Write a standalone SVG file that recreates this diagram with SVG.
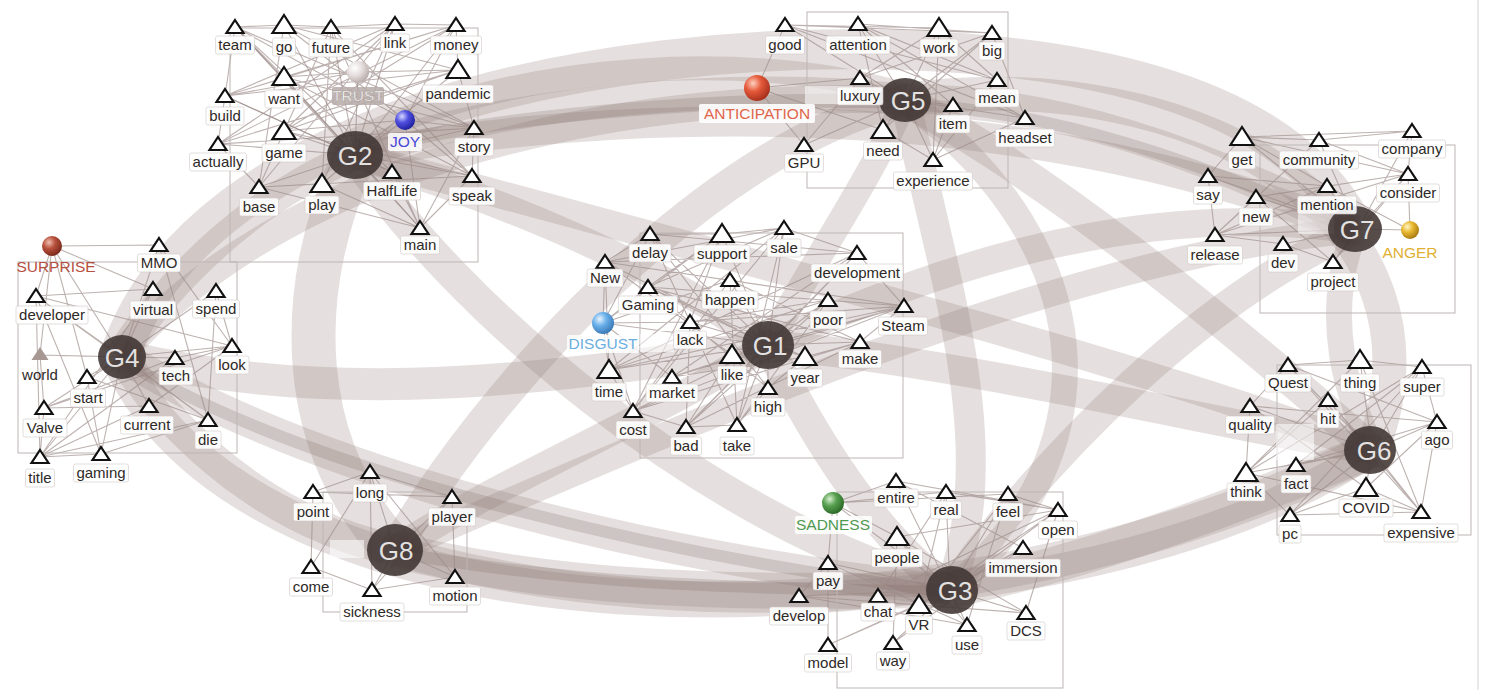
<svg xmlns="http://www.w3.org/2000/svg" xmlns:xlink="http://www.w3.org/1999/xlink" width="1486" height="700" viewBox="0 0 1486 700">
<style>
.band{fill:none;stroke:#8f7a74;stroke-opacity:.23;stroke-linecap:butt}
.bd{fill:none;stroke:#7a6560;stroke-opacity:.22}
.e{fill:none;stroke:#9a8985;stroke-opacity:.65;stroke-width:1.1}
.box{fill:none;stroke:#bdb5b3;stroke-width:1}
.gc{fill:#3f3432;fill-opacity:.88}
.gl{font-family:"Liberation Sans",Arial,sans-serif;font-size:26px;fill:#fff;fill-opacity:.85;text-anchor:middle}
.tri{fill:#fff;stroke:#111;stroke-width:2.2;stroke-linejoin:miter}
.lb{fill:#fff;fill-opacity:.9;stroke:#d0c8c6;stroke-width:.6}
.t{font-family:"Liberation Sans",Arial,sans-serif;font-size:15px;fill:#2e2927;text-anchor:middle}
.em{font-family:"Liberation Sans",Arial,sans-serif;font-size:15.5px;text-anchor:middle}
.hid{fill:#fff;fill-opacity:.55}
</style>
<defs>
<path id="ts" class="tri" d="M0,-7 L8.5,6 L-8.5,6Z"/>
<path id="tl" class="tri" d="M0,-10 L11.5,8 L-11.5,8Z"/>
<radialGradient id="gR" cx=".35" cy=".32" r=".7"><stop offset="0" stop-color="#f0c0b0"/><stop offset=".45" stop-color="#b8503c"/><stop offset="1" stop-color="#7a2a1c"/></radialGradient>
<radialGradient id="gO" cx=".35" cy=".32" r=".7"><stop offset="0" stop-color="#ffd0c0"/><stop offset=".45" stop-color="#e55a3a"/><stop offset="1" stop-color="#a8301c"/></radialGradient>
<radialGradient id="gB" cx=".35" cy=".32" r=".7"><stop offset="0" stop-color="#d8d8ff"/><stop offset=".45" stop-color="#5050e0"/><stop offset="1" stop-color="#2020a0"/></radialGradient>
<radialGradient id="gC" cx=".35" cy=".32" r=".7"><stop offset="0" stop-color="#e8f4ff"/><stop offset=".45" stop-color="#6ab0ea"/><stop offset="1" stop-color="#3a7ab8"/></radialGradient>
<radialGradient id="gY" cx=".35" cy=".32" r=".7"><stop offset="0" stop-color="#fff4c8"/><stop offset=".45" stop-color="#e8b830"/><stop offset="1" stop-color="#a87a10"/></radialGradient>
<radialGradient id="gG" cx=".35" cy=".32" r=".7"><stop offset="0" stop-color="#d8f0d0"/><stop offset=".45" stop-color="#58a050"/><stop offset="1" stop-color="#2c6a28"/></radialGradient>
<radialGradient id="gW" cx=".35" cy=".32" r=".7"><stop offset="0" stop-color="#ffffff"/><stop offset=".5" stop-color="#e4dedd"/><stop offset="1" stop-color="#b8adab"/></radialGradient>
</defs>
<rect width="1486" height="700" fill="#fff"/>
<line x1="1478" y1="0" x2="1478" y2="690" stroke="#d6d2d2" stroke-width="1"/>

<g id="connectors">
<g id="bands">
<path class="band" stroke-width="40" d="M120,355 C200,120 600,40 900,50 C1150,58 1300,120 1355,230"/>
<path class="band" stroke-width="34" d="M905,100 C1200,60 1460,220 1372,450"/>
<path class="band" stroke-width="32" d="M355,155 C500,100 750,80 905,100"/>
<path class="band" stroke-width="24" d="M355,140 C520,60 760,50 905,95"/>
<path class="band" stroke-width="30" d="M355,155 C600,110 1000,90 1355,230"/>
<path class="band" stroke-width="32" d="M905,100 C1050,100 1200,150 1355,230"/>
<path class="band" stroke-width="32" d="M905,100 C1050,180 1200,300 1372,450"/>
<path class="band" stroke-width="28" d="M768,345 C950,260 1150,200 1355,230"/>
<path class="band" stroke-width="30" d="M768,345 C950,360 1200,420 1372,450"/>
<path class="band" stroke-width="36" d="M950,590 C1100,560 1250,500 1372,450"/>
<path class="band" stroke-width="30" d="M950,590 C1050,450 1200,300 1355,230"/>
<path class="band" stroke-width="30" d="M905,100 C950,300 1000,450 950,590"/>
<path class="band" stroke-width="26" d="M905,100 C1110,250 1110,460 950,590"/>
<path class="band" stroke-width="32" d="M355,155 C450,300 700,520 950,590"/>
<path class="band" stroke-width="32" d="M905,100 C700,150 480,400 395,550"/>
<path class="band" stroke-width="44" d="M355,155 C290,300 300,450 395,550"/>
<path class="band" stroke-width="32" d="M120,355 C300,400 500,390 768,345"/>
<path class="band" stroke-width="32" d="M120,355 C300,470 650,560 950,590"/>
<path class="band" stroke-width="36" d="M120,360 C250,640 900,680 1372,450"/>
<path class="band" stroke-width="36" d="M395,550 C600,600 800,590 950,590"/>
<path class="band" stroke-width="30" d="M395,550 C700,640 1150,600 1372,450"/>
<path class="band" stroke-width="32" d="M120,355 C200,470 300,530 395,550"/>
<path class="band" stroke-width="28" d="M355,155 C500,200 650,260 768,345"/>
<path class="band" stroke-width="28" d="M768,345 C650,420 500,480 395,550"/>
<path class="band" stroke-width="30" d="M768,345 C820,450 880,540 950,590"/>
<path class="band" stroke-width="26" d="M768,345 C820,250 870,180 905,100"/>
<path class="band" stroke-width="30" d="M355,155 C250,200 170,280 120,355"/>
<path class="band" stroke-width="26" d="M1355,230 C1320,320 1350,400 1372,450"/>
<path class="band" stroke-width="28" d="M355,155 C700,250 1100,350 1372,450"/>
<path class="band" stroke-width="28" d="M120,355 C300,150 650,90 905,100"/>
<path class="band" stroke-width="26" d="M395,550 C700,420 1050,260 1355,230"/>
<path class="bd" stroke-width="14" d="M355,152 C500,112 750,96 905,102"/>
<path class="bd" stroke-width="12" d="M905,104 C1050,110 1200,160 1355,232"/>
<path class="bd" stroke-width="12" d="M395,552 C600,590 800,588 950,592"/>
<path class="bd" stroke-width="12" d="M122,360 C300,470 650,555 950,592"/>
</g>
<g id="edges">
<path class="e" d="M235,27L355,155M284,25L355,155M331,27L355,155M395,24L355,155M456,25L355,155M284,77L355,155M458,70L355,155M225,96L355,155M284,131L355,155M218,144L355,155M474,128L355,155M392,172L355,155M472,176L355,155M259,187L355,155M322,184L355,155M420,228L355,155M358,72L355,155M405,120L355,155"/>
<path class="e" d="M235,27L284,77L456,25L225,96L458,70L284,131L395,24L218,144L474,128L284,25L259,187L472,176L331,27L322,184L420,228L235,27M284,25L458,70L218,144L456,25L284,131L472,176L284,77L474,128L235,27L392,172L225,96L395,24L259,187L331,27L420,228L284,77M235,27L284,25L331,27L395,24L456,25L458,70L474,128L472,176L420,228L322,184L259,187L218,144L225,96L235,27M225,96L458,70M218,144L474,128M259,187L420,228M331,27L259,187M395,24L322,184M456,25L218,144M405,120L235,27M405,120L284,25M405,120L456,25M405,120L474,128M405,120L420,228M405,120L472,176M405,120L284,131M358,72L284,77M358,72L458,70M358,72L225,96M392,172L420,228M472,176L420,228M474,128L420,228"/>
<path class="e" d="M785,25L905,100M858,24L905,100M939,28L905,100M992,33L905,100M860,78L905,100M997,80L905,100M953,105L905,100M1025,118L905,100M804,145L905,100M883,130L905,100M933,160L905,100M785,25L939,28L860,78L992,33L883,130L858,24L997,80L785,25M858,24L992,33M939,28L997,80L858,24M785,25L992,33M933,160L953,105M933,160L997,80M933,160L1025,118M933,160L883,130M933,160L939,28M953,105L858,24M804,145L860,78M1025,118L992,33M757,88L785,25M757,88L804,145M757,88L860,78M757,88L883,130M785,25L1025,118M858,24L1025,118"/>
<path class="e" d="M1242,137L1358,229M1319,140L1358,229M1412,131L1358,229M1208,176L1358,229M1408,174L1358,229M1256,197L1358,229M1327,186L1358,229M1215,235L1358,229M1283,244L1358,229M1333,262L1358,229M1410,230L1358,229M1242,137L1319,140L1412,131L1408,174L1410,230M1242,137L1408,174M1242,137L1327,186M1208,176L1242,137M1208,176L1215,235M1215,235L1256,197M1215,235L1283,244L1333,262M1215,235L1319,140M1215,235L1327,186M1215,235L1408,174M1256,197L1408,174M1319,140L1408,174M1408,174L1333,262M1410,230L1327,186M1208,176L1327,186M1256,197L1333,262M1242,137L1412,131"/>
<path class="e" d="M159,245L122,357M36,296L122,357M153,289L122,357M216,291L122,357M40,355L122,357M175,358L122,357M232,346L122,357M87,377L122,357M44,408L122,357M149,406L122,357M208,420L122,357M40,457L122,357M101,454L122,357M52,246L122,357M52,246L36,296M52,246L40,355M52,246L159,245M52,246L153,289M52,246L87,377M36,296L153,289M36,296L208,420M36,296L40,457M40,355L44,408L40,457M44,408L175,358M44,408L232,346M44,408L149,406M40,457L101,454M40,457L149,406M40,457L208,420M40,457L175,358M40,457L153,289M101,454L208,420M101,454L36,296M159,245L232,346M159,245L208,420M216,291L232,346M216,291L208,420M87,377L208,420M87,377L101,454M149,406L232,346M175,358L232,346M40,355L175,358M36,296L232,346"/>
<path class="e" d="M650,234L768,345M722,234L768,345M784,228L768,345M857,253L768,345M605,262L768,345M648,287L768,345M730,280L768,345M828,300L768,345M904,306L768,345M690,322L768,345M732,355L768,345M805,357L768,345M860,342L768,345M609,370L768,345M672,377L768,345M768,388L768,345M633,411L768,345M686,427L768,345M737,425L768,345M603,323L768,345M650,234L722,234L784,228L857,253L904,306L860,342L805,357L768,388L737,425L686,427L633,411L609,370L605,262L650,234M650,234L857,253L605,262L904,306L648,287L860,342L730,280L737,425L828,300L686,427L690,322L904,306M722,234L633,411L784,228L609,370L857,253L672,377L904,306M605,262L784,228L648,287L722,234L690,322L828,300L609,370L904,306L633,411L860,342L686,427L857,253M672,377L805,357L648,287L768,388L650,234L737,425L784,228M732,355L605,262M732,355L904,306M732,355L686,427M730,280L633,411M603,323L605,262M603,323L650,234M603,323L648,287M603,323L609,370M603,323L690,322M603,323L672,377M603,323L633,411M603,323L730,280M603,323L722,234"/>
<path class="e" d="M1288,365L1372,450M1360,360L1372,450M1422,367L1372,450M1250,406L1372,450M1328,400L1372,450M1437,422L1372,450M1246,473L1372,450M1296,465L1372,450M1366,488L1372,450M1290,515L1372,450M1421,512L1372,450M1288,365L1360,360L1422,367L1437,422L1421,512L1366,488L1290,515L1246,473L1250,406L1288,365M1288,365L1437,422M1288,365L1421,512M1360,360L1421,512M1360,360L1246,473M1422,367L1246,473M1422,367L1290,515M1250,406L1437,422M1250,406L1366,488M1328,400L1421,512M1328,400L1246,473M1296,465L1437,422M1296,465L1422,367M1366,488L1437,422M1290,515L1421,512M1246,473L1421,512M1250,406L1246,473"/>
<path class="e" d="M313,492L452,497M370,472L313,492M370,472L452,497M313,492L311,567M370,472L311,567M370,472L372,590M370,472L455,577M452,497L455,577M452,497L372,590M372,590L455,577M311,567L372,590M370,472L395,550M452,497L395,550M455,577L395,550M372,590L395,550"/>
<path class="e" d="M896,481L950,590M946,492L950,590M1008,494L950,590M1058,510L950,590M897,537L950,590M1023,548L950,590M828,563L950,590M799,596L950,590M878,596L950,590M919,605L950,590M1026,613L950,590M967,625L950,590M828,645L950,590M893,643L950,590M833,503L950,590M833,503L896,481M833,503L946,492M833,503L897,537M833,503L828,563M833,503L1008,494M896,481L1058,510M946,492L1058,510M1008,494L1058,510M896,481L1023,548M946,492L919,605M1008,494L919,605M1058,510L919,605M1058,510L897,537M1023,548L919,605M1026,613L919,605M1026,613L897,537M967,625L828,563M967,625L799,596M967,625L897,537M893,643L897,537M893,643L1023,548M828,645L919,605M828,645L828,563M799,596L919,605M799,596L828,563M878,596L1058,510M878,596L946,492M1026,613L1058,510M967,625L1008,494"/>
</g>
</g>

<g id="groups">
<rect class="box" x="230" y="28" width="248" height="234"/>
<rect class="box" x="807" y="12" width="201" height="176"/>
<rect class="box" x="1260" y="145" width="195" height="168"/>
<rect class="box" x="18" y="262" width="219" height="191"/>
<rect class="box" x="640" y="233" width="263" height="225"/>
<rect class="box" x="1277" y="365" width="194" height="170"/>
<rect class="box" x="323" y="492" width="144" height="120"/>
<rect class="box" x="837" y="492" width="226" height="196"/>
<rect class="hid" x="805" y="86" width="48" height="18"/>
<rect class="hid" x="640" y="334" width="34" height="18"/>
<rect class="hid" x="330" y="540" width="34" height="18"/>
<rect class="hid" x="1276" y="424" width="38" height="36"/>
<rect class="hid" x="1298" y="214" width="36" height="20"/>
</g>

<g id="G1"><ellipse class="gc" cx="768" cy="345" rx="26" ry="24" fill-opacity=".7"/><text class="gl" x="770" y="355">G1</text></g>
<g id="G2"><ellipse class="gc" cx="355" cy="155" rx="28" ry="24"/><text class="gl" x="355" y="165">G2</text></g>
<g id="G3"><ellipse class="gc" cx="952" cy="590" rx="26" ry="24"/><text class="gl" x="955" y="600">G3</text></g>
<g id="G4"><ellipse class="gc" cx="122" cy="357" rx="24" ry="22"/><text class="gl" x="122" y="367">G4</text></g>
<g id="G5"><ellipse class="gc" cx="905" cy="100" rx="26" ry="22"/><text class="gl" x="908" y="110">G5</text></g>
<g id="G6"><ellipse class="gc" cx="1370" cy="450" rx="26" ry="24"/><text class="gl" x="1374" y="460">G6</text></g>
<g id="G7"><ellipse class="gc" cx="1355" cy="229" rx="27" ry="23"/><text class="gl" x="1357" y="239">G7</text></g>
<g id="G8"><ellipse class="gc" cx="395" cy="550" rx="28" ry="26"/><text class="gl" x="396" y="560">G8</text></g>

<g id="nodes">
<g id="n-team"><use href="#ts" x="235" y="27"/><rect class="lb" x="215.5" y="36" width="39" height="18" rx="2"/><text class="t" x="235" y="50">team</text></g>
<g id="n-go"><use href="#tl" x="284" y="25"/><rect class="lb" x="272.5" y="38" width="23" height="18" rx="2"/><text class="t" x="284" y="52">go</text></g>
<g id="n-future"><use href="#ts" x="331" y="27"/><rect class="lb" x="309" y="39" width="44" height="18" rx="2"/><text class="t" x="331" y="53">future</text></g>
<g id="n-link"><use href="#ts" x="395" y="24"/><rect class="lb" x="380.5" y="34" width="29" height="18" rx="2"/><text class="t" x="395" y="48">link</text></g>
<g id="n-money"><use href="#ts" x="456" y="25"/><rect class="lb" x="430.5" y="36" width="51" height="18" rx="2"/><text class="t" x="456" y="50">money</text></g>
<g id="n-want"><use href="#tl" x="284" y="77"/><rect class="lb" x="265" y="90" width="38" height="18" rx="2"/><text class="t" x="284" y="104">want</text></g>
<g id="n-pandemic"><use href="#tl" x="458" y="70"/><rect class="lb" x="422.5" y="85" width="71" height="18" rx="2"/><text class="t" x="458" y="99">pandemic</text></g>
<g id="n-build"><use href="#ts" x="225" y="96"/><rect class="lb" x="206" y="107" width="38" height="18" rx="2"/><text class="t" x="225" y="121">build</text></g>
<g id="n-game"><use href="#tl" x="284" y="131"/><rect class="lb" x="262" y="144" width="44" height="18" rx="2"/><text class="t" x="284" y="158">game</text></g>
<g id="n-actually"><use href="#ts" x="218" y="144"/><rect class="lb" x="189.5" y="153" width="57" height="18" rx="2" fill-opacity=".5"/><text class="t" x="218" y="167">actually</text></g>
<g id="n-story"><use href="#ts" x="474" y="128"/><rect class="lb" x="454.5" y="138" width="39" height="18" rx="2"/><text class="t" x="474" y="152">story</text></g>
<g id="n-HalfLife"><use href="#ts" x="392" y="172"/><rect class="lb" x="363.5" y="182" width="57" height="18" rx="2"/><text class="t" x="392" y="196">HalfLife</text></g>
<g id="n-speak"><use href="#ts" x="472" y="176"/><rect class="lb" x="449" y="187" width="46" height="18" rx="2"/><text class="t" x="472" y="201">speak</text></g>
<g id="n-base"><use href="#ts" x="259" y="187"/><rect class="lb" x="239.5" y="198" width="39" height="18" rx="2"/><text class="t" x="259" y="212">base</text></g>
<g id="n-play"><use href="#tl" x="322" y="184"/><rect class="lb" x="305" y="196" width="34" height="18" rx="2"/><text class="t" x="322" y="210">play</text></g>
<g id="n-main"><use href="#ts" x="420" y="228"/><rect class="lb" x="400.5" y="236" width="39" height="18" rx="2"/><text class="t" x="420" y="250">main</text></g>

<g id="n-good"><use href="#ts" x="785" y="25"/><rect class="lb" x="765.5" y="36" width="39" height="18" rx="2"/><text class="t" x="785" y="50">good</text></g>
<g id="n-attention"><use href="#ts" x="858" y="24"/><rect class="lb" x="826" y="36" width="64" height="18" rx="2"/><text class="t" x="858" y="50">attention</text></g>
<g id="n-work"><use href="#tl" x="939" y="28"/><rect class="lb" x="920" y="39" width="38" height="18" rx="2"/><text class="t" x="939" y="53">work</text></g>
<g id="n-big"><use href="#ts" x="992" y="33"/><rect class="lb" x="979" y="42" width="26" height="18" rx="2"/><text class="t" x="992" y="56">big</text></g>
<g id="n-luxury"><use href="#ts" x="860" y="78"/><rect class="lb" x="837" y="87" width="46" height="18" rx="2"/><text class="t" x="860" y="101">luxury</text></g>
<g id="n-mean"><use href="#ts" x="997" y="80"/><rect class="lb" x="975" y="89" width="44" height="18" rx="2"/><text class="t" x="997" y="103">mean</text></g>
<g id="n-item"><use href="#ts" x="953" y="105"/><rect class="lb" x="936" y="115" width="34" height="18" rx="2"/><text class="t" x="953" y="129">item</text></g>
<g id="n-headset"><use href="#ts" x="1025" y="118"/><rect class="lb" x="995.5" y="129" width="59" height="18" rx="2"/><text class="t" x="1025" y="143">headset</text></g>
<g id="n-GPU"><use href="#ts" x="804" y="145"/><rect class="lb" x="784.5" y="154" width="39" height="18" rx="2"/><text class="t" x="804" y="168">GPU</text></g>
<g id="n-need"><use href="#tl" x="883" y="130"/><rect class="lb" x="863.5" y="142" width="39" height="18" rx="2"/><text class="t" x="883" y="156">need</text></g>
<g id="n-experience"><use href="#ts" x="933" y="160"/><rect class="lb" x="893.5" y="172" width="79" height="18" rx="2"/><text class="t" x="933" y="186">experience</text></g>

<g id="n-get"><use href="#tl" x="1242" y="137"/><rect class="lb" x="1228.5" y="151" width="27" height="18" rx="2"/><text class="t" x="1242" y="165">get</text></g>
<g id="n-community"><use href="#ts" x="1319" y="140"/><rect class="lb" x="1279.5" y="151" width="79" height="18" rx="2"/><text class="t" x="1319" y="165">community</text></g>
<g id="n-company"><use href="#ts" x="1412" y="131"/><rect class="lb" x="1378.5" y="140" width="67" height="18" rx="2"/><text class="t" x="1412" y="154">company</text></g>
<g id="n-say"><use href="#ts" x="1208" y="176"/><rect class="lb" x="1193.5" y="186" width="29" height="18" rx="2"/><text class="t" x="1208" y="200">say</text></g>
<g id="n-consider"><use href="#ts" x="1408" y="174"/><rect class="lb" x="1376.5" y="184" width="63" height="18" rx="2"/><text class="t" x="1408" y="198">consider</text></g>
<g id="n-new"><use href="#ts" x="1256" y="197"/><rect class="lb" x="1239" y="208" width="34" height="18" rx="2"/><text class="t" x="1256" y="222">new</text></g>
<g id="n-mention"><use href="#ts" x="1327" y="186"/><rect class="lb" x="1297.5" y="196" width="59" height="18" rx="2"/><text class="t" x="1327" y="210">mention</text></g>
<g id="n-release"><use href="#ts" x="1215" y="235"/><rect class="lb" x="1187.5" y="246" width="55" height="18" rx="2"/><text class="t" x="1215" y="260">release</text></g>
<g id="n-dev"><use href="#ts" x="1283" y="244"/><rect class="lb" x="1268" y="254" width="30" height="18" rx="2"/><text class="t" x="1283" y="268">dev</text></g>
<g id="n-project"><use href="#ts" x="1333" y="262"/><rect class="lb" x="1307.5" y="273" width="51" height="18" rx="2"/><text class="t" x="1333" y="287">project</text></g>

<g id="n-MMO"><use href="#ts" x="159" y="245"/><rect class="lb" x="137.5" y="254" width="43" height="18" rx="2"/><text class="t" x="159" y="268">MMO</text></g>
<g id="n-developer"><use href="#ts" x="36" y="296"/><rect class="lb" x="16" y="306" width="72" height="18" rx="2"/><text class="t" x="52" y="320">developer</text></g>
<g id="n-virtual"><use href="#ts" x="153" y="289"/><rect class="lb" x="130" y="301" width="46" height="18" rx="2"/><text class="t" x="153" y="315">virtual</text></g>
<g id="n-spend"><use href="#ts" x="216" y="291"/><rect class="lb" x="192.5" y="300" width="47" height="18" rx="2"/><text class="t" x="216" y="314">spend</text></g>
<g id="n-world"><path d="M40,347 L48.5,360 L31.5,360Z" fill="#a89894"/><text class="t" x="40" y="380">world</text></g>
<g id="n-tech"><use href="#ts" x="175" y="358"/><rect class="lb" x="159" y="367" width="34" height="18" rx="2"/><text class="t" x="176" y="381">tech</text></g>
<g id="n-look"><use href="#ts" x="232" y="346"/><rect class="lb" x="215" y="356" width="34" height="18" rx="2"/><text class="t" x="232" y="370">look</text></g>
<g id="n-start"><use href="#ts" x="87" y="377"/><rect class="lb" x="70.5" y="389" width="35" height="18" rx="2"/><text class="t" x="88" y="403">start</text></g>
<g id="n-Valve"><use href="#ts" x="44" y="408"/><rect class="lb" x="23" y="419" width="44" height="18" rx="2" fill-opacity=".6"/><text class="t" x="45" y="433">Valve</text></g>
<g id="n-current"><use href="#ts" x="149" y="406"/><rect class="lb" x="120.5" y="416" width="53" height="18" rx="2"/><text class="t" x="147" y="430">current</text></g>
<g id="n-die"><use href="#ts" x="208" y="420"/><rect class="lb" x="195" y="431" width="26" height="18" rx="2"/><text class="t" x="208" y="445">die</text></g>
<g id="n-title"><use href="#ts" x="40" y="457"/><rect class="lb" x="25.5" y="469" width="29" height="18" rx="2"/><text class="t" x="40" y="483">title</text></g>
<g id="n-gaming"><use href="#ts" x="101" y="454"/><rect class="lb" x="73.5" y="464" width="55" height="18" rx="2"/><text class="t" x="101" y="478">gaming</text></g>

<g id="n-delay"><use href="#ts" x="650" y="234"/><rect class="lb" x="629" y="244" width="42" height="18" rx="2"/><text class="t" x="650" y="258">delay</text></g>
<g id="n-support"><use href="#tl" x="722" y="234"/><rect class="lb" x="694" y="245" width="56" height="18" rx="2"/><text class="t" x="722" y="259">support</text></g>
<g id="n-sale"><use href="#ts" x="784" y="228"/><rect class="lb" x="767" y="239" width="34" height="18" rx="2"/><text class="t" x="784" y="253">sale</text></g>
<g id="n-development"><use href="#ts" x="857" y="253"/><rect class="lb" x="811" y="264" width="92" height="18" rx="2"/><text class="t" x="857" y="278">development</text></g>
<g id="n-New"><use href="#ts" x="605" y="262"/><rect class="lb" x="587" y="269" width="36" height="18" rx="2"/><text class="t" x="605" y="283">New</text></g>
<g id="n-Gaming"><use href="#ts" x="648" y="287"/><rect class="lb" x="618.5" y="296" width="59" height="18" rx="2"/><text class="t" x="648" y="310">Gaming</text></g>
<g id="n-happen"><use href="#ts" x="730" y="280"/><rect class="lb" x="702" y="291" width="56" height="18" rx="2"/><text class="t" x="730" y="305">happen</text></g>
<g id="n-poor"><use href="#ts" x="828" y="300"/><rect class="lb" x="810" y="311" width="36" height="18" rx="2"/><text class="t" x="828" y="325">poor</text></g>
<g id="n-Steam"><use href="#ts" x="904" y="306"/><rect class="lb" x="878.5" y="317" width="49" height="18" rx="2"/><text class="t" x="903" y="331">Steam</text></g>
<g id="n-lack"><use href="#ts" x="690" y="322"/><rect class="lb" x="673.5" y="331" width="33" height="18" rx="2"/><text class="t" x="690" y="345">lack</text></g>
<g id="n-like"><use href="#tl" x="732" y="355"/><rect class="lb" x="717.5" y="366" width="29" height="18" rx="2"/><text class="t" x="732" y="380">like</text></g>
<g id="n-year"><use href="#tl" x="805" y="357"/><rect class="lb" x="787.5" y="369" width="35" height="18" rx="2"/><text class="t" x="805" y="383">year</text></g>
<g id="n-make"><use href="#ts" x="860" y="342"/><rect class="lb" x="838.5" y="350" width="43" height="18" rx="2"/><text class="t" x="860" y="364">make</text></g>
<g id="n-time"><use href="#tl" x="609" y="370"/><rect class="lb" x="592" y="383" width="34" height="18" rx="2"/><text class="t" x="609" y="397">time</text></g>
<g id="n-market"><use href="#ts" x="672" y="377"/><rect class="lb" x="646" y="384" width="52" height="18" rx="2"/><text class="t" x="672" y="398">market</text></g>
<g id="n-high"><use href="#ts" x="768" y="388"/><rect class="lb" x="751" y="398" width="34" height="18" rx="2"/><text class="t" x="768" y="412">high</text></g>
<g id="n-cost"><use href="#ts" x="633" y="411"/><rect class="lb" x="616" y="421" width="34" height="18" rx="2"/><text class="t" x="633" y="435">cost</text></g>
<g id="n-bad"><use href="#ts" x="686" y="427"/><rect class="lb" x="670.5" y="437" width="31" height="18" rx="2"/><text class="t" x="686" y="451">bad</text></g>
<g id="n-take"><use href="#ts" x="737" y="425"/><rect class="lb" x="720" y="437" width="34" height="18" rx="2"/><text class="t" x="737" y="451">take</text></g>

<g id="n-Quest"><use href="#ts" x="1288" y="365"/><rect class="lb" x="1265" y="374" width="46" height="18" rx="2"/><text class="t" x="1288" y="388">Quest</text></g>
<g id="n-thing"><use href="#tl" x="1360" y="360"/><rect class="lb" x="1340.5" y="374" width="39" height="18" rx="2"/><text class="t" x="1360" y="388">thing</text></g>
<g id="n-super"><use href="#ts" x="1422" y="367"/><rect class="lb" x="1400" y="378" width="44" height="18" rx="2"/><text class="t" x="1422" y="392">super</text></g>
<g id="n-quality"><use href="#ts" x="1250" y="406"/><rect class="lb" x="1225.5" y="416" width="49" height="18" rx="2"/><text class="t" x="1250" y="430">quality</text></g>
<g id="n-hit"><use href="#ts" x="1328" y="400"/><rect class="lb" x="1317" y="410" width="22" height="18" rx="2"/><text class="t" x="1328" y="424">hit</text></g>
<g id="n-ago"><use href="#ts" x="1437" y="422"/><rect class="lb" x="1421.5" y="431" width="31" height="18" rx="2"/><text class="t" x="1437" y="445">ago</text></g>
<g id="n-think"><use href="#tl" x="1246" y="473"/><rect class="lb" x="1227" y="483" width="38" height="18" rx="2"/><text class="t" x="1246" y="497">think</text></g>
<g id="n-fact"><use href="#ts" x="1296" y="465"/><rect class="lb" x="1281" y="475" width="30" height="18" rx="2"/><text class="t" x="1296" y="489">fact</text></g>
<g id="n-COVID"><use href="#tl" x="1366" y="488"/><rect class="lb" x="1339" y="499" width="54" height="18" rx="2"/><text class="t" x="1366" y="513">COVID</text></g>
<g id="n-pc"><use href="#ts" x="1290" y="515"/><rect class="lb" x="1279" y="525" width="22" height="18" rx="2"/><text class="t" x="1290" y="539">pc</text></g>
<g id="n-expensive"><use href="#ts" x="1421" y="512"/><rect class="lb" x="1384" y="524" width="74" height="18" rx="2"/><text class="t" x="1421" y="538">expensive</text></g>

<g id="n-long"><use href="#ts" x="370" y="472"/><rect class="lb" x="353" y="484" width="34" height="18" rx="2"/><text class="t" x="370" y="498">long</text></g>
<g id="n-point"><use href="#ts" x="313" y="492"/><rect class="lb" x="293.5" y="503" width="39" height="18" rx="2"/><text class="t" x="313" y="517">point</text></g>
<g id="n-player"><use href="#ts" x="452" y="497"/><rect class="lb" x="428.5" y="508" width="47" height="18" rx="2"/><text class="t" x="452" y="522">player</text></g>
<g id="n-come"><use href="#ts" x="311" y="567"/><rect class="lb" x="289.5" y="578" width="43" height="18" rx="2"/><text class="t" x="311" y="592">come</text></g>
<g id="n-sickness"><use href="#ts" x="372" y="590"/><rect class="lb" x="340" y="603" width="64" height="18" rx="2"/><text class="t" x="372" y="617">sickness</text></g>
<g id="n-motion"><use href="#ts" x="455" y="577"/><rect class="lb" x="429.5" y="587" width="51" height="18" rx="2"/><text class="t" x="455" y="601">motion</text></g>

<g id="n-entire"><use href="#ts" x="896" y="481"/><rect class="lb" x="874" y="489" width="44" height="18" rx="2"/><text class="t" x="896" y="503">entire</text></g>
<g id="n-real"><use href="#ts" x="946" y="492"/><rect class="lb" x="930.5" y="501" width="31" height="18" rx="2"/><text class="t" x="946" y="515">real</text></g>
<g id="n-feel"><use href="#ts" x="1008" y="494"/><rect class="lb" x="993" y="503" width="30" height="18" rx="2"/><text class="t" x="1008" y="517">feel</text></g>
<g id="n-open"><use href="#ts" x="1058" y="510"/><rect class="lb" x="1038.5" y="521" width="39" height="18" rx="2"/><text class="t" x="1058" y="535">open</text></g>
<g id="n-people"><use href="#tl" x="897" y="537"/><rect class="lb" x="871.5" y="549" width="51" height="18" rx="2"/><text class="t" x="897" y="563">people</text></g>
<g id="n-immersion"><use href="#ts" x="1023" y="548"/><rect class="lb" x="985.5" y="559" width="75" height="18" rx="2"/><text class="t" x="1023" y="573">immersion</text></g>
<g id="n-pay"><use href="#ts" x="828" y="563"/><rect class="lb" x="813" y="572" width="30" height="18" rx="2"/><text class="t" x="828" y="586">pay</text></g>
<g id="n-develop"><use href="#ts" x="799" y="596"/><rect class="lb" x="769.5" y="607" width="59" height="18" rx="2"/><text class="t" x="799" y="621">develop</text></g>
<g id="n-chat"><use href="#ts" x="878" y="596"/><rect class="lb" x="861" y="603" width="34" height="18" rx="2"/><text class="t" x="878" y="617">chat</text></g>
<g id="n-VR"><use href="#tl" x="919" y="605"/><rect class="lb" x="905.5" y="616" width="27" height="18" rx="2" fill-opacity=".5"/><text class="t" x="919" y="630">VR</text></g>
<g id="n-DCS"><use href="#ts" x="1026" y="613"/><rect class="lb" x="1007" y="622" width="38" height="18" rx="2"/><text class="t" x="1026" y="636">DCS</text></g>
<g id="n-use"><use href="#ts" x="967" y="625"/><rect class="lb" x="952" y="636" width="30" height="18" rx="2"/><text class="t" x="967" y="650">use</text></g>
<g id="n-model"><use href="#ts" x="828" y="645"/><rect class="lb" x="804.5" y="654" width="47" height="18" rx="2"/><text class="t" x="828" y="668">model</text></g>
<g id="n-way"><use href="#ts" x="893" y="643"/><rect class="lb" x="876.5" y="652" width="33" height="18" rx="2"/><text class="t" x="893" y="666">way</text></g>
</g>

<g id="emotions">
<g id="e-SURPRISE"><circle cx="52" cy="246" r="10" fill="url(#gR)"/><text class="em" x="56" y="272" fill="#b5503f">SURPRISE</text></g>
<g id="e-TRUST"><circle cx="358" cy="72" r="11" fill="url(#gW)"/><rect x="332" y="87" width="52" height="18" rx="2" fill="#b6aaa8" fill-opacity=".85"/><text class="em" x="358" y="101" fill="#ffffff" stroke="#a09592" stroke-width=".4">TRUST</text></g>
<g id="e-JOY"><circle cx="405" cy="120" r="10" fill="url(#gB)"/><rect x="388" y="133" width="34" height="18" rx="2" fill="#fff" fill-opacity=".85"/><text class="em" x="405" y="147" fill="#4848d8">JOY</text></g>
<g id="e-ANTICIPATION"><circle cx="757" cy="88" r="13" fill="url(#gO)"/><rect x="699" y="104" width="116" height="19" rx="2" fill="#fff" fill-opacity=".9"/><text class="em" x="757" y="119" fill="#e0654a">ANTICIPATION</text></g>
<g id="e-DISGUST"><circle cx="603" cy="323" r="11" fill="url(#gC)"/><rect x="567" y="335" width="72" height="18" rx="2" fill="#fff" fill-opacity=".8"/><text class="em" x="603" y="349" fill="#6aaee0">DISGUST</text></g>
<g id="e-ANGER"><circle cx="1410" cy="230" r="9" fill="url(#gY)"/><text class="em" x="1410" y="258" fill="#e0b030">ANGER</text></g>
<g id="e-SADNESS"><circle cx="833" cy="503" r="11" fill="url(#gG)"/><rect x="795" y="516" width="77" height="18" rx="2" fill="#fff" fill-opacity=".85"/><text class="em" x="833" y="530" fill="#4f9a4f">SADNESS</text></g>
</g>
</svg>
